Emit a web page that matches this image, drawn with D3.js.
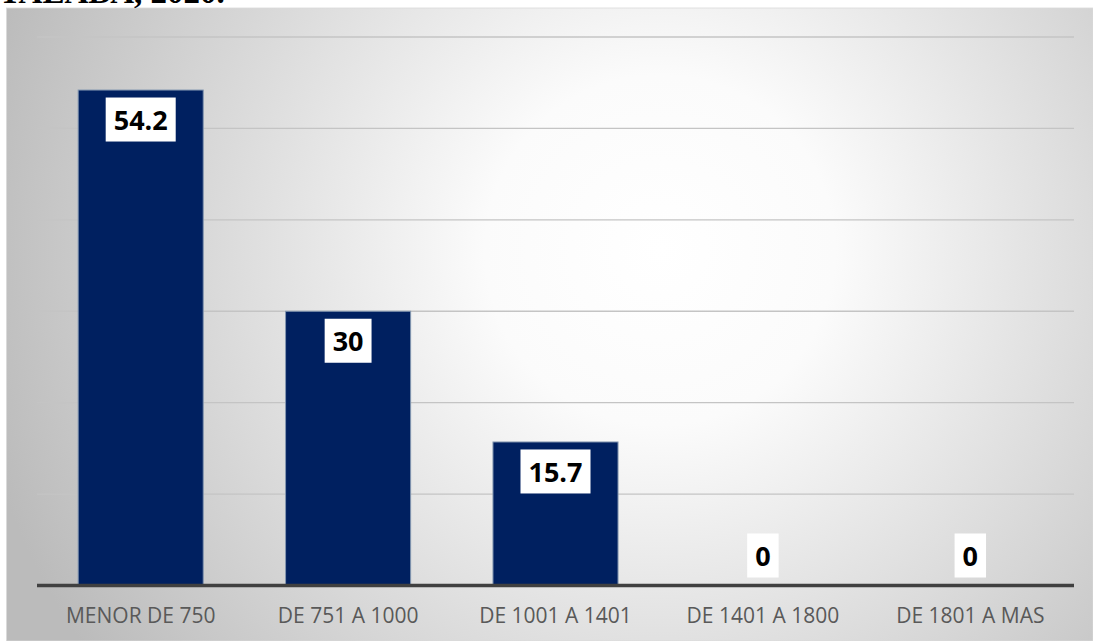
<!DOCTYPE html>
<html>
<head>
<meta charset="utf-8">
<script src="https://cdn.jsdelivr.net/npm/d3@7"></script>
<style>
  html, body { margin: 0; padding: 0; background: #ffffff; }
  svg { display: block; }
</style>
</head>
<body>
<svg id="chart" width="1093" height="641"></svg>
<script>
// Salary ranges and share of respondents (%)
const categories = ["MENOR DE 750", "DE 751 A 1000", "DE 1001 A 1401", "DE 1401 A 1800", "DE 1801 A MAS"];
const values = [54.2, 30, 15.7, 0, 0];
const yTicks = [0, 10, 20, 30, 40, 50, 60];

const svg = d3.select("#chart");
const W = 1093, H = 641;

// Chart area with a soft radial fill
const defs = svg.append("defs");
const grad = defs.append("radialGradient")
  .attr("id", "bgGrad")
  .attr("gradientUnits", "userSpaceOnUse")
  .attr("cx", 660).attr("cy", 250).attr("r", 700);
grad.append("stop").attr("offset", "0").attr("stop-color", "#ffffff");
grad.append("stop").attr("offset", "0.25").attr("stop-color", "#fbfbfb");
grad.append("stop").attr("offset", "1").attr("stop-color", "#bbbbbb");

svg.append("rect")
  .attr("x", 6.5).attr("y", 8)
  .attr("width", W - 6.5).attr("height", H - 8)
  .attr("fill", "url(#bgGrad)")
  .attr("stroke", "#d9d9d9").attr("stroke-width", 0.8);

// Caption line above the chart (cut at the top edge)
svg.append("text")
  .attr("x", -1).attr("y", 2.5)
  .attr("font-family", "'Liberation Serif', 'Times New Roman', serif")
  .attr("font-weight", "bold")
  .attr("font-size", 33)
  .attr("fill", "#000")
  .text("TALABA, 2020.");

const plotLeft = 37, plotRight = 1074, plotTop = 37, base = 585.5;

const x = d3.scaleBand()
  .domain(categories)
  .range([plotLeft, plotRight])
  .paddingInner(0.397)
  .paddingOuter(0.397 / 2);

const y = d3.scaleLinear()
  .domain([0, 60])
  .range([base, plotTop]);

// Horizontal gridlines
svg.append("g")
  .selectAll("line")
  .data(yTicks.filter(d => d > 0))
  .join("line")
  .attr("x1", plotLeft).attr("x2", plotRight)
  .attr("y1", d => y(d)).attr("y2", d => y(d))
  .attr("stroke", "#c4c4c4")
  .attr("stroke-width", 1.3);

// Bars
svg.append("g")
  .selectAll("rect")
  .data(values.map((v, i) => ({ cat: categories[i], v })))
  .join("rect")
  .attr("x", d => x(d.cat))
  .attr("y", d => y(d.v))
  .attr("width", x.bandwidth())
  .attr("height", d => base - y(d.v))
  .attr("fill", "#002060")
  .attr("stroke", "#8497b0")
  .attr("stroke-width", d => d.v > 0 ? 1 : 0);

// Category axis
const xAxis = svg.append("g")
  .attr("transform", `translate(0,${base})`)
  .call(d3.axisBottom(x).tickSize(0).tickPadding(0));
xAxis.select(".domain").remove();
xAxis.selectAll("text")
  .attr("y", 37.5)
  .attr("dy", 0)
  .attr("font-family", "'Open Sans', sans-serif")
  .attr("font-size", 21)
  .attr("fill", "#595959");

svg.append("line")
  .attr("x1", plotLeft).attr("x2", plotRight)
  .attr("y1", base).attr("y2", base)
  .attr("stroke", "#404040")
  .attr("stroke-width", 3.5);

// Value labels in white boxes
const boxH = 44;
const labels = svg.append("g")
  .selectAll("g")
  .data(values.map((v, i) => ({ cat: categories[i], v })))
  .join("g");

labels.each(function (d) {
  const g = d3.select(this);
  const cx = x(d.cat) + x.bandwidth() / 2;
  const tall = base - y(d.v) > boxH + 16;
  const boxTop = tall ? y(d.v) + 7.5 : base - 8 - boxH;
  const t = g.append("text")
    .attr("x", cx)
    .attr("y", boxTop + boxH / 2)
    .attr("text-anchor", "middle")
    .attr("dominant-baseline", "central")
    .attr("font-family", "'Open Sans', sans-serif")
    .attr("font-weight", "bold")
    .attr("font-size", 27)
    .attr("fill", "#000")
    .text(d3.format("")(d.v));
  const w = t.node().getComputedTextLength() + 16;
  g.insert("rect", "text")
    .attr("x", cx - w / 2)
    .attr("y", boxTop)
    .attr("width", w)
    .attr("height", boxH)
    .attr("fill", "#ffffff");
});
</script>
</body>
</html>
